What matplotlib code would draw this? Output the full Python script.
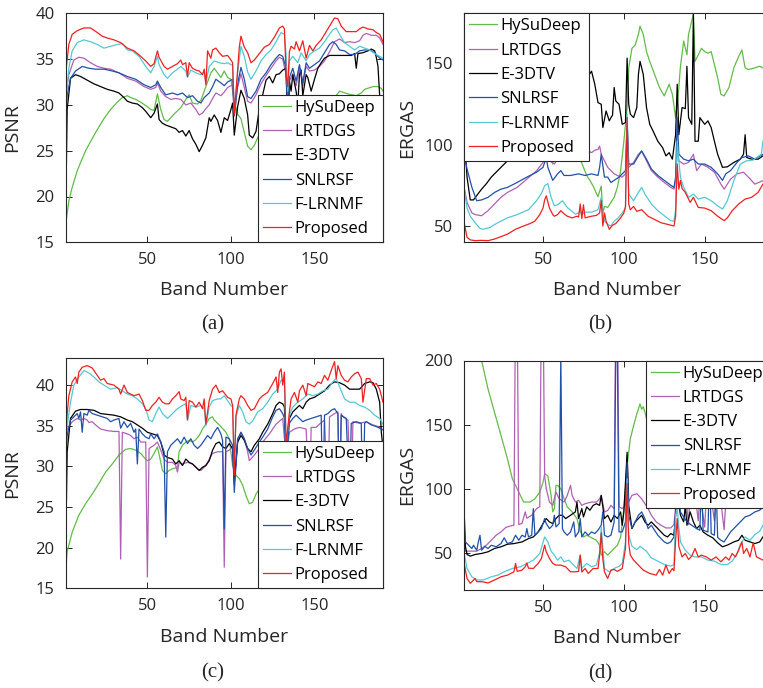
import matplotlib
matplotlib.use('Agg')
import matplotlib.pyplot as plt

plt.rcParams['font.family'] = ['Open Sans', 'DejaVu Sans']

methods = ['HySuDeep', 'LRTDGS', 'E-3DTV', 'SNLRSF', 'F-LRNMF', 'Proposed']
colors = ['#62bb48', '#b060b4', '#000000', '#2050a8', '#55c8d4', '#f02020']

# ---------- (a) PSNR, case 1 : (band, value) ----------
a_hysudeep = [(1,16.8),(3,19.5),(5,21),(8,22.8),(10,23.7),(13,25),(16,26),(20,27.3),(24,28.5),(28,29.5),(32,30.3),(35,30.8),(38,31.0),(40,30.8),(43,30.6),(46,30.3),(50,29.8),(52,29.5),(54,29.4),(56,31.2),(58,29.5),(60,28.4),(62,28.2),(66,29.0),(70,29.7),(73,30.6),(75,31.1),(77,30.2),(80,30.1),(82,30.5),(84,31.5),(86,32.5),(88,33.5),(90,34.0),(92,33.5),(94,33.0),(96,33.7),(98,33.0),(100,32.8),(102,30.4),(104,29.0),(106,28.5),(108,27.0),(110,25.5),(112,25.1),(114,25.6),(116,26.4),(118,27.2),(120,28),(125,29),(130,30.2),(132,30.8),(134,29),(140,29.5),(150,29.5),(158,30),(162,30.8),(165,31.5),(170,31.2),(175,31.0),(178,31.3),(180,31.7),(185,32.0),(188,32.0),(190,31.8),(191,31.5)]
a_lrtdgs = [(1,31.1),(3,33.3),(6,34.9),(9,35.2),(12,35.1),(16,34.6),(20,34.2),(24,34.0),(28,33.9),(33,33.5),(38,32.9),(43,32.6),(48,32.0),(52,31.7),(55,31.9),(56,32.4),(58,31.5),(61,30.9),(64,30.6),(67,30.7),(70,30.6),(73,30.0),(76,30.2),(79,29.5),(81,28.9),(83,29.1),(85,29.6),(87,30.0),(89,30.7),(91,31.3),(94,31.0),(96,31.4),(98,31.9),(101,32.2),(102,28.8),(104,31.9),(106,33.4),(108,31.9),(110,30.4),(112,30.2),(115,31.1),(118,32.3),(121,33.2),(124,34.0),(127,34.8),(129,35.2),(131,35.0),(133,33.3),(134,28.5),(135,32.6),(137,33.4),(139,32.1),(141,34.0),(143,32.1),(145,34.2),(147,33.7),(150,33.8),(153,34.2),(156,34.8),(159,35.8),(162,36.9),(165,37.2),(168,36.8),(171,36.9),(174,36.8),(177,37.0),(179,37.6),(181,37.8),(184,37.6),(187,37.6),(189,37.3),(191,36.6)]
a_e3dtv = [(1,16.5),(2,29.5),(4,32.9),(7,33.3),(10,33.1),(14,32.7),(18,32.3),(22,32.0),(26,31.7),(30,31.5),(33,31.3),(36,30.8),(38,30.4),(41,30.2),(44,30.1),(47,29.7),(49,29.3),(52,28.6),(54,29.1),(56,30.1),(57,28.4),(59,28.0),(61,27.8),(64,27.6),(67,27.4),(69,27.0),(71,27.2),(73,26.6),(75,27.2),(77,26.3),(79,25.7),(81,24.9),(83,25.6),(85,26.4),(87,28.6),(88,28.2),(90,28.9),(92,28.3),(94,27.0),(96,28.6),(98,28.3),(100,29.5),(101,30.2),(102,26.7),(104,29.8),(106,31.6),(108,30.7),(110,28.9),(111,26.7),(113,26.4),(115,27.1),(117,29.6),(119,31.1),(121,32.7),(123,33.1),(125,32.4),(127,33.3),(129,33.4),(131,33.8),(133,34.0),(134,27.0),(135,32.6),(136,31.5),(137,33.3),(139,31.5),(140,30.0),(141,33.3),(142,33.8),(143,31.0),(145,33.3),(146,33.0),(148,31.5),(150,32.8),(152,34.0),(154,34.6),(156,35.1),(159,35.4),(163,35.4),(168,35.4),(172,35.4),(174,35.6),(175,34.0),(176,35.6),(179,35.7),(182,35.9),(184,36.1),(186,35.9),(187,35.2),(188,34.2),(189,31.0),(190,27.5),(191,24.0)]
a_snlrsf = [(1,27.9),(2,31.1),(4,32.9),(7,33.7),(11,34.2),(15,34.0),(19,33.9),(24,33.9),(29,33.7),(33,33.5),(38,33.1),(43,32.8),(48,32.2),(52,31.9),(55,32.2),(56,32.6),(58,31.9),(61,31.1),(65,31.3),(68,31.1),(71,31.3),(74,30.8),(77,31.0),(80,30.4),(82,30.2),(84,30.8),(87,31.3),(89,32.0),(91,32.8),(94,32.4),(96,32.1),(98,32.5),(101,32.8),(102,28.8),(104,32.3),(106,34.1),(108,32.8),(110,30.9),(112,30.7),(115,31.5),(118,32.8),(121,33.5),(124,34.4),(127,35.1),(129,35.5),(131,35.3),(133,34.0),(134,28.5),(135,33.0),(137,34.0),(139,32.6),(141,34.4),(143,32.4),(145,34.6),(147,34.0),(150,34.4),(153,34.8),(156,35.7),(159,36.6),(161,36.9),(163,36.6),(165,36.0),(168,35.9),(171,35.5),(174,35.5),(177,35.9),(180,36.0),(183,36.0),(186,35.7),(189,35.1),(191,34.9)]
a_flrnmf = [(1,30.0),(3,34.0),(5,35.9),(8,36.8),(12,37.1),(16,36.9),(20,36.6),(24,36.2),(28,36.4),(32,36.6),(35,36.7),(38,36.0),(41,35.9),(45,35.3),(49,34.2),(52,33.5),(54,34.2),(56,35.3),(57,34.4),(60,33.3),(62,32.9),(65,33.5),(68,33.9),(70,34.2),(73,33.7),(74,33.0),(76,33.8),(79,33.5),(82,33.3),(84,33.6),(85,32.4),(87,34.2),(90,34.8),(93,34.6),(96,34.5),(98,34.6),(101,34.3),(102,29.3),(104,33.5),(106,36.4),(108,35.3),(110,33.6),(112,32.8),(115,33.7),(118,34.8),(121,35.5),(124,36.0),(127,36.9),(130,37.9),(132,37.7),(133,35.5),(134,31.5),(135,34.8),(137,35.3),(140,34.6),(142,35.7),(145,34.8),(147,35.5),(150,35.9),(153,36.2),(156,36.9),(159,37.7),(161,38.2),(163,38.4),(165,37.7),(168,36.8),(171,36.4),(174,36.0),(177,36.4),(180,36.2),(183,36.0),(186,35.6),(189,35.3),(191,35.1)]
a_proposed = [(1,33.3),(3,36.6),(5,37.7),(8,38.1),(12,38.4),(16,38.4),(20,37.9),(23,37.5),(26,37.3),(30,37.1),(34,36.8),(38,36.2),(42,35.9),(46,35.3),(49,34.8),(52,34.2),(54,34.5),(56,35.9),(57,35.2),(60,34.2),(62,33.9),(65,34.2),(68,34.5),(70,34.9),(71,34.4),(73,34.6),(74,33.1),(75,34.6),(77,34.0),(79,33.8),(81,33.7),(83,33.3),(84,33.9),(85,32.2),(86,35.9),(88,35.1),(89,36.0),(91,36.2),(93,35.7),(95,35.3),(98,35.4),(100,34.9),(101,34.6),(102,28.9),(104,33.8),(105,36.3),(106,37.5),(108,36.3),(110,35.7),(112,34.6),(114,34.9),(117,35.6),(120,36.3),(123,36.6),(126,37.4),(129,38.4),(131,38.6),(132,38.3),(133,33.3),(134,32.0),(135,35.8),(136,36.4),(138,36.1),(139,36.9),(141,35.9),(143,37.0),(145,35.1),(147,36.5),(149,35.9),(151,36.5),(154,37.1),(157,38.0),(160,38.9),(162,39.5),(164,39.4),(166,38.6),(169,38.0),(172,38.0),(175,38.0),(177,38.3),(179,38.5),(182,38.3),(185,38.2),(187,37.9),(189,37.7),(191,36.9)]

# ---------- (b) ERGAS, case 1 ----------
b_hysudeep = [(1,250.0),(5,200.0),(10,175.0),(15,160.0),(20,150.0),(30,135.0),(40,122.0),(48,112.0),(52,105.0),(54,98.0),(55,94.0),(56,88.0),(57,96.0),(60,102.0),(65,100.0),(70,97.0),(73,91.0),(75,86.0),(77,81.0),(79,78.0),(81,74.5),(83,70.0),(84,68.0),(86,74.5),(87,58.0),(88,62.0),(90,61.4),(92,64.5),(94,67.6),(96,73.7),(98,84.0),(100,102.0),(102,122.7),(103,147.0),(105,159.0),(107,161.0),(109,167.6),(110,172.6),(112,167.6),(114,157.0),(116,151.0),(119,143.0),(122,135.0),(125,129.8),(128,137.0),(130,130.8),(132,116.5),(134,135.0),(135,148.0),(137,163.5),(139,155.0),(140,167.6),(143,180.0),(144,151.0),(146,155.0),(148,159.0),(150,157.0),(152,156.0),(154,157.0),(156,149.0),(158,141.0),(160,130.8),(162,129.8),(165,135.0),(168,147.0),(171,154.0),(173,158.0),(175,147.0),(177,146.0),(181,147.0),(184,148.0),(186,147.0),(191,147.0)]
b_lrtdgs = [(1,74.7),(3,64.5),(6,58.0),(8,57.0),(12,56.3),(16,59.4),(20,63.5),(24,67.6),(28,70.6),(34,73.7),(40,78.8),(46,83.9),(50,89.0),(52,94.0),(54,90.0),(57,88.0),(59,91.0),(63,90.0),(67,92.0),(71,93.0),(75,94.0),(78,96.0),(80,95.0),(82,96.5),(84,97.0),(85,99.0),(86,94.0),(88,90.0),(90,86.0),(92,84.0),(94,82.0),(97,80.5),(99,80.0),(101,82.0),(102,112.0),(103,86.0),(106,89.0),(109,94.0),(111,96.0),(114,90.0),(117,84.0),(121,80.0),(125,76.7),(129,73.7),(131,72.6),(132,78.0),(133,98.0),(134,90.0),(137,88.0),(140,89.0),(143,94.0),(145,84.0),(148,88.0),(152,86.0),(156,83.0),(160,75.7),(162,72.6),(166,78.8),(170,82.0),(174,83.0),(177,80.0),(181,75.7),(186,77.8),(191,80.0)]
b_e3dtv = [(1,110.0),(3,80.0),(5,66.0),(7,66.0),(10,70.0),(12,72.6),(15,76.0),(18,80.0),(21,83.0),(24,86.0),(28,90.0),(32,92.5),(36,96.0),(40,100.0),(45,104.0),(50,108.0),(55,112.0),(60,116.0),(65,122.0),(70,130.0),(75,138.0),(78,142.0),(80,145.0),(82,137.0),(84,125.7),(86,124.7),(87,110.4),(89,120.6),(91,114.5),(92,116.5),(93,118.0),(94,135.0),(95,126.7),(97,124.7),(98,118.6),(99,112.4),(101,113.5),(102,153.0),(103,124.7),(104,118.6),(106,116.5),(108,122.7),(109,143.0),(110,151.0),(112,143.0),(114,122.7),(116,112.4),(118,108.4),(121,102.0),(124,98.0),(126,93.0),(128,95.0),(130,91.0),(132,106.0),(133,137.0),(134,106.0),(136,122.7),(138,122.0),(139,148.0),(140,116.5),(142,112.4),(143,180.0),(144,102.0),(146,102.0),(147,116.5),(150,112.4),(152,114.5),(154,110.4),(156,102.0),(158,94.0),(161,86.0),(164,86.3),(168,89.0),(172,91.0),(174,94.0),(175,106.0),(176,92.0),(179,91.0),(183,91.0),(186,93.0),(191,95.0)]
b_snlrsf = [(1,95.0),(3,85.0),(6,73.7),(9,65.5),(12,66.0),(16,67.6),(20,70.6),(24,72.6),(28,73.7),(34,76.7),(40,80.0),(46,83.0),(50,86.0),(52,92.0),(53,86.0),(56,78.0),(59,82.0),(61,84.0),(63,81.0),(67,81.0),(72,82.0),(76,81.0),(80,82.0),(84,81.0),(85,86.0),(86,94.0),(88,80.0),(90,80.0),(92,76.7),(94,78.0),(97,80.0),(99,82.0),(101,84.0),(102,116.5),(103,88.0),(106,88.0),(109,93.0),(111,96.0),(114,91.0),(117,85.0),(121,81.0),(125,78.0),(129,75.0),(131,73.7),(132,80.0),(133,116.5),(134,94.0),(137,91.0),(140,90.0),(143,91.0),(146,88.0),(150,88.0),(154,86.0),(158,82.0),(161,78.0),(163,82.0),(166,84.0),(170,89.0),(173,92.0),(177,93.0),(181,91.0),(186,94.0),(191,96.0)]
b_flrnmf = [(1,75.0),(3,61.0),(5,56.0),(8,52.0),(11,48.5),(13,48.0),(17,49.0),(22,52.0),(28,55.0),(34,57.0),(41,60.0),(46,65.5),(49,70.0),(51,74.7),(53,76.0),(55,67.6),(57,62.4),(59,63.0),(62,65.5),(65,61.4),(70,57.3),(72,58.0),(73,59.5),(74,57.0),(76,58.5),(80,58.5),(84,60.0),(86,67.6),(87,58.0),(88,53.0),(90,51.0),(92,50.0),(94,53.0),(96,54.5),(99,58.0),(101,61.0),(102,118.5),(103,69.6),(106,65.5),(109,70.6),(111,73.7),(113,69.6),(117,63.5),(121,59.4),(125,56.3),(129,53.3),(131,53.0),(132,60.0),(133,102.0),(134,90.0),(135,79.8),(137,73.7),(140,67.6),(143,69.6),(146,66.5),(150,67.6),(154,65.5),(158,62.4),(161,60.4),(164,65.5),(168,77.8),(172,88.0),(176,90.0),(180,90.5),(185,94.0),(186,102.0),(191,110.0)]
b_proposed = [(1,53.3),(3,43.0),(5,41.5),(8,41.0),(12,41.2),(16,41.0),(20,42.0),(24,43.5),(28,45.0),(33,48.0),(38,50.0),(42,51.5),(45,53.0),(48,57.0),(50,61.0),(51,66.0),(52,68.5),(54,61.0),(56,57.0),(57,56.0),(59,57.0),(61,59.4),(63,57.5),(65,56.0),(68,55.0),(71,56.0),(72,55.5),(73,63.5),(74,54.5),(75,63.0),(76,55.0),(78,55.5),(80,56.0),(83,56.5),(85,58.0),(86,65.5),(87,50.0),(88,58.0),(89,53.0),(91,48.0),(93,50.5),(95,51.5),(98,55.0),(100,58.0),(101,62.0),(102,116.5),(103,63.5),(104,60.0),(106,62.0),(108,59.0),(111,60.0),(115,56.0),(119,54.0),(123,52.0),(127,51.0),(131,50.0),(132,56.0),(133,88.0),(134,72.6),(135,78.0),(136,73.0),(138,70.6),(141,64.5),(143,67.6),(146,61.4),(150,61.0),(154,59.4),(158,56.0),(162,53.3),(164,55.0),(167,59.4),(171,63.5),(175,66.5),(179,67.6),(183,70.6),(186,75.7),(188,78.0),(191,80.0)]

# ---------- (c) PSNR, case 2 ----------
c_hysudeep = [(1,16.8),(2,19.5),(5,21.9),(9,24.0),(13,25.4),(17,26.6),(21,27.9),(25,29.3),(29,30.3),(33,31.4),(37,32.1),(40,32.2),(43,32.0),(46,31.6),(48,31.1),(50,30.7),(52,30.9),(54,31.6),(56,32.4),(57,31.5),(59,29.5),(61,29.1),(63,29.5),(65,29.7),(68,29.9),(69,31.8),(71,32.6),(73,33.0),(75,33.2),(77,33.0),(79,33.3),(81,33.8),(83,34.6),(85,35.2),(87,35.9),(89,36.1),(90,35.7),(92,35.3),(94,34.9),(97,34.2),(99,33.4),(101,30.1),(103,28.9),(105,28.5),(107,27.7),(109,26.4),(111,25.4),(113,25.6),(115,26.6),(118,27.5),(122,28.5),(127,29.5),(132,30.0),(137,30.5),(145,30.5),(155,30.0),(165,30.5),(175,31.0),(185,31.0),(191,30.8)]
c_lrtdgs = [(1,33.0),(2,34.6),(5,35.5),(8,35.9),(10,35.7),(12,35.9),(14,35.7),(15,35.4),(17,35.5),(19,35.1),(22,34.6),(26,34.4),(30,34.3),(33,34.3),(34,18.6),(35,34.2),(38,34.0),(40,33.8),(42,33.4),(44,33.6),(46,33.0),(49,33.0),(50,16.4),(51,32.2),(54,32.6),(56,33.0),(58,32.0),(60,30.9),(62,30.5),(65,30.5),(67,30.1),(68,29.3),(69,30.5),(71,30.3),(74,30.5),(77,30.3),(80,29.7),(82,29.5),(84,29.9),(86,30.5),(89,31.6),(92,31.8),(95,31.8),(96,17.6),(97,31.8),(99,32.0),(101,32.4),(102,27.7),(104,33.0),(106,34.2),(108,33.4),(110,31.8),(111,30.7),(114,31.4),(117,32.2),(119,33.0),(123,34.0),(127,35.2),(131,35.9),(133,31.0),(135,34.2),(138,34.6),(141,34.8),(145,34.6),(147,25.0),(148,34.8),(151,34.8),(153,35.2),(156,35.7),(158,26.0),(159,36.1),(162,36.5),(164,36.7),(165,25.5),(166,36.5),(167,36.1),(170,35.7),(172,24.5),(173,35.5),(175,35.4),(177,35.3),(181,35.5),(185,35.1),(188,34.9),(191,34.5)]
c_e3dtv = [(1,17.8),(2,31.8),(4,35.9),(7,36.8),(10,37.0),(14,37.0),(18,36.9),(22,36.5),(26,36.4),(30,36.3),(34,36.1),(38,35.7),(41,35.5),(44,35.1),(47,34.7),(50,34.2),(53,34.0),(56,33.8),(58,33.0),(60,31.4),(62,31.1),(65,30.9),(67,30.3),(69,30.7),(71,30.1),(73,30.9),(75,30.5),(77,30.3),(79,29.9),(81,29.5),(83,29.9),(85,30.1),(87,30.7),(89,32.0),(91,32.8),(93,33.0),(95,32.4),(97,32.2),(99,32.8),(101,32.2),(102,28.1),(104,33.0),(106,33.8),(108,33.2),(110,32.2),(112,31.8),(114,32.6),(117,33.4),(119,34.2),(122,35.2),(125,36.5),(127,37.5),(129,37.9),(131,37.7),(132,37.3),(133,32.2),(135,35.9),(137,36.7),(139,37.1),(141,37.5),(143,37.1),(145,37.9),(147,38.3),(150,38.5),(153,38.9),(156,39.3),(159,40.0),(162,40.4),(165,40.3),(168,40.0),(171,39.5),(174,39.5),(177,39.5),(180,40.2),(183,40.4),(185,40.3),(187,39.5),(189,37.9),(190,34.2),(191,32.2)]
c_snlrsf = [(1,30.5),(2,33.8),(4,35.7),(6,36.1),(8,36.5),(9,35.9),(10,36.7),(11,34.2),(12,36.5),(14,36.3),(15,36.9),(17,36.5),(20,36.3),(23,36.1),(26,35.9),(28,35.5),(30,35.7),(33,35.9),(34,34.7),(36,35.5),(38,34.8),(40,35.3),(42,34.2),(43,34.6),(44,30.3),(45,34.6),(47,34.0),(49,33.6),(51,33.4),(52,34.0),(54,33.4),(56,34.0),(58,33.0),(60,31.8),(61,21.3),(62,31.8),(64,32.6),(66,33.0),(68,33.4),(70,32.8),(72,33.6),(74,32.8),(76,33.4),(78,32.6),(80,32.2),(82,32.6),(84,33.2),(86,33.8),(88,33.4),(90,34.2),(92,34.8),(94,34.0),(95,33.2),(96,22.3),(97,33.6),(99,33.4),(101,32.6),(102,26.8),(104,33.4),(106,34.2),(108,33.4),(110,32.2),(112,31.4),(114,32.0),(117,33.0),(119,33.6),(122,34.6),(125,36.1),(127,36.9),(129,37.1),(131,36.5),(132,35.9),(133,30.5),(135,35.3),(137,35.9),(139,36.3),(141,35.9),(143,35.5),(145,35.7),(148,35.9),(151,36.1),(154,36.3),(155,25.0),(156,36.3),(158,36.5),(160,36.9),(162,37.1),(164,36.5),(165,24.0),(166,36.3),(169,35.9),(171,26.0),(172,35.3),(175,35.5),(178,35.3),(179,23.0),(180,35.3),(181,35.5),(184,35.1),(187,34.9),(189,34.7),(191,34.5)]
c_flrnmf = [(1,33.6),(4,37.9),(6,40.0),(9,41.0),(12,41.8),(15,41.5),(18,41.0),(21,40.4),(24,40.0),(28,39.5),(32,39.7),(35,39.3),(38,38.9),(41,38.7),(44,38.3),(47,37.7),(49,37.1),(51,35.7),(53,35.5),(55,36.5),(57,37.3),(59,36.5),(62,35.9),(65,36.5),(68,37.1),(71,37.5),(73,37.7),(74,35.7),(76,37.5),(79,37.3),(82,37.5),(84,37.1),(85,35.0),(87,37.3),(89,38.1),(92,38.3),(94,38.3),(96,38.7),(98,38.1),(100,37.5),(101,37.3),(102,30.1),(103,36.1),(105,37.5),(107,36.7),(109,35.5),(111,35.2),(113,35.6),(116,36.7),(119,37.1),(122,37.9),(125,38.9),(128,39.5),(130,40.6),(132,40.4),(133,32.6),(135,36.3),(137,37.3),(140,37.9),(143,38.3),(146,38.9),(149,38.7),(152,38.9),(155,39.3),(158,39.5),(161,40.4),(163,40.8),(165,39.8),(168,38.3),(171,37.9),(174,37.9),(177,37.5),(180,37.3),(183,36.9),(186,36.3),(189,35.9),(191,35.2)]
c_proposed = [(1,34.2),(3,38.7),(5,40.4),(7,41.0),(8,40.2),(9,41.6),(11,42.2),(14,42.4),(17,42.1),(20,41.2),(22,40.6),(24,40.8),(26,40.2),(30,40.0),(33,39.5),(34,38.9),(36,40.0),(38,39.1),(40,38.9),(42,38.7),(45,38.9),(47,38.1),(49,36.9),(51,36.9),(53,37.5),(55,37.9),(57,38.5),(59,37.9),(61,37.7),(63,37.7),(65,38.3),(67,38.7),(69,39.2),(70,38.3),(72,38.1),(73,38.5),(74,35.7),(75,38.1),(77,37.9),(79,37.3),(81,37.9),(83,37.1),(84,38.3),(85,35.2),(87,38.1),(89,39.5),(91,40.0),(93,39.1),(95,39.3),(98,38.5),(100,38.3),(101,37.5),(102,28.9),(103,36.3),(105,38.3),(106,38.7),(108,38.3),(110,37.5),(112,36.9),(114,37.1),(117,38.3),(119,38.7),(122,39.1),(125,40.2),(127,41.0),(128,39.1),(129,41.6),(130,42.0),(131,40.0),(132,41.6),(133,32.6),(135,36.7),(136,38.3),(138,39.1),(140,37.9),(141,39.3),(143,40.0),(145,38.7),(146,40.2),(148,40.0),(150,39.8),(152,40.4),(154,40.2),(156,41.2),(158,40.6),(160,41.8),(162,42.9),(163,40.8),(164,42.4),(166,41.2),(168,40.6),(170,40.4),(172,41.0),(174,41.4),(176,41.6),(178,40.8),(179,37.9),(181,40.8),(183,40.8),(185,40.0),(187,40.2),(189,39.5),(191,37.9)]

# ---------- (d) ERGAS, case 2 ----------
d_hysudeep = [(1,400.0),(5,300.0),(9,240.0),(12,200.0),(16,177.7),(20,159.6),(24,141.5),(28,123.3),(31,107.8),(35,97.4),(38,89.6),(42,89.6),(45,92.2),(48,97.4),(50,105.0),(51,111.7),(53,110.0),(55,94.8),(56,81.9),(57,84.5),(58,102.6),(59,102.6),(61,100.0),(63,92.2),(65,85.8),(68,81.9),(71,76.7),(73,66.8),(75,62.4),(77,63.7),(79,62.4),(81,61.1),(83,59.8),(85,55.9),(86,48.2),(88,50.8),(90,48.2),(92,50.8),(94,53.4),(96,55.9),(98,62.4),(100,84.5),(102,118.0),(104,138.9),(106,149.2),(108,158.3),(110,166.1),(111,162.0),(112,164.0),(113,159.6),(116,145.0),(120,130.0),(125,115.0),(130,110.0),(135,118.0),(140,125.0),(150,120.0),(160,115.0),(170,120.0),(180,125.0),(191,125.0)]
d_lrtdgs = [(1,58.5),(2,51.3),(6,51.3),(9,51.3),(12,53.4),(15,56.0),(18,59.8),(21,63.7),(24,66.3),(27,69.8),(30,71.0),(32,71.5),(33,250.0),(34,250.0),(35,72.0),(37,73.0),(39,81.9),(40,77.0),(43,79.3),(46,84.5),(48,86.0),(49,250.0),(50,250.0),(51,110.0),(52,100.0),(54,89.6),(56,87.0),(58,97.4),(60,92.2),(63,89.6),(65,94.8),(67,102.6),(68,94.8),(70,89.6),(72,91.0),(74,87.0),(76,88.3),(80,89.6),(83,89.6),(85,92.2),(86,94.8),(88,81.9),(90,83.0),(92,87.0),(94,84.5),(95,250.0),(96,250.0),(97,86.0),(99,84.5),(101,87.0),(102,125.9),(103,89.6),(105,94.8),(108,96.1),(111,92.2),(113,88.3),(115,84.5),(117,79.3),(120,74.1),(123,71.5),(126,69.4),(129,69.4),(131,72.0),(133,100.0),(135,95.0),(138,98.0),(140,72.0),(141,98.0),(144,96.0),(146,75.0),(147,96.0),(150,70.0),(151,95.0),(154,93.0),(156,75.0),(157,92.0),(160,90.0),(162,68.0),(163,89.0),(166,90.0),(170,92.0),(174,95.0),(178,97.0),(182,98.0),(186,100.0),(191,100.0)]
d_e3dtv = [(1,90.0),(2,55.0),(3,48.7),(5,47.4),(8,48.7),(12,49.5),(16,50.8),(20,53.4),(24,54.7),(28,56.7),(32,57.2),(37,58.5),(41,61.1),(44,62.4),(47,66.3),(50,72.8),(52,76.7),(54,74.1),(56,72.8),(58,76.7),(60,79.3),(62,79.3),(64,76.7),(67,79.3),(70,81.9),(71,89.6),(72,76.7),(74,84.5),(75,78.0),(77,85.8),(79,83.2),(81,87.0),(83,88.3),(85,87.0),(86,94.8),(88,76.7),(90,79.3),(92,74.0),(94,79.3),(96,76.7),(98,81.9),(99,71.5),(100,81.9),(102,128.5),(103,87.0),(105,68.9),(107,74.1),(109,76.7),(111,79.3),(113,74.1),(115,71.5),(117,74.1),(119,71.5),(121,68.9),(123,66.3),(125,63.7),(127,62.4),(129,65.0),(131,63.7),(133,94.8),(135,79.3),(137,74.1),(138,87.0),(139,71.5),(141,81.9),(143,74.1),(145,68.9),(147,71.5),(149,66.3),(152,63.7),(155,61.7),(158,57.8),(161,54.7),(164,56.0),(168,58.5),(171,59.8),(173,63.7),(175,59.8),(178,58.5),(181,57.2),(184,58.5),(186,62.4),(191,64.0)]
d_snlrsf = [(1,74.1),(2,58.5),(4,55.9),(6,53.4),(7,55.9),(9,52.0),(10,58.5),(11,63.7),(12,52.0),(14,55.0),(16,53.4),(18,55.9),(21,54.7),(24,57.2),(26,61.7),(28,57.2),(31,58.5),(33,63.7),(35,59.8),(37,63.7),(39,62.4),(40,68.9),(41,62.4),(43,63.7),(44,84.5),(45,63.7),(47,66.3),(49,68.9),(51,76.7),(52,72.8),(54,68.9),(56,71.5),(57,79.3),(58,70.2),(60,72.8),(61,205.0),(62,68.9),(63,66.3),(65,63.7),(67,66.3),(69,74.1),(70,62.4),(72,66.3),(73,76.7),(74,62.4),(76,66.3),(78,63.7),(80,66.3),(82,65.0),(84,67.6),(86,71.5),(87,81.9),(88,63.7),(90,62.4),(92,63.7),(94,74.1),(95,205.0),(96,205.0),(97,66.3),(99,66.3),(101,74.1),(102,120.7),(103,79.3),(105,68.9),(107,74.1),(109,79.3),(111,81.9),(113,76.7),(115,68.9),(117,71.5),(119,67.6),(121,63.7),(123,61.1),(125,58.5),(127,57.2),(129,58.5),(131,62.4),(133,100.0),(135,81.9),(137,78.0),(139,74.1),(142,71.5),(145,68.9),(147,67.6),(148,110.0),(149,67.6),(152,66.3),(153,115.0),(154,65.0),(156,63.7),(157,105.0),(158,62.0),(160,59.8),(162,58.5),(164,62.4),(166,66.3),(169,70.2),(172,74.1),(175,78.0),(178,79.3),(181,81.9),(184,83.2),(186,85.8),(191,88.0)]
d_flrnmf = [(1,50.8),(3,37.8),(6,31.3),(9,28.8),(13,28.8),(18,31.3),(22,32.6),(26,35.2),(31,37.8),(36,39.1),(40,41.7),(44,44.3),(48,49.5),(51,62.4),(53,58.5),(55,51.3),(57,48.2),(59,44.3),(61,46.8),(63,43.0),(66,44.3),(69,40.4),(71,37.8),(73,48.2),(74,37.8),(77,41.7),(80,39.1),(83,40.4),(85,50.0),(86,70.2),(88,37.8),(91,35.2),(94,37.8),(97,39.5),(99,41.7),(101,58.5),(102,107.8),(103,64.2),(105,55.1),(108,52.5),(110,55.1),(114,51.2),(117,46.0),(121,43.5),(125,40.9),(129,39.6),(131,40.9),(132,79.3),(133,85.0),(134,70.0),(135,58.5),(138,52.0),(141,48.2),(144,46.8),(148,46.8),(152,44.3),(156,43.5),(160,40.9),(164,40.9),(167,43.5),(170,49.5),(172,56.5),(175,62.4),(178,59.8),(181,64.2),(184,66.8),(186,71.5),(189,75.0),(191,78.0)]
d_proposed = [(1,43.0),(3,30.0),(5,26.2),(8,30.0),(9,27.5),(12,27.5),(16,26.5),(20,28.8),(24,31.3),(28,32.6),(32,35.2),(33,41.7),(34,35.5),(37,36.5),(39,39.1),(40,42.0),(41,38.0),(44,37.8),(47,41.7),(49,45.6),(51,56.0),(52,50.8),(54,45.6),(56,41.7),(58,40.4),(61,40.4),(64,39.1),(67,35.2),(70,35.2),(72,35.5),(73,48.2),(74,35.0),(76,37.8),(78,33.9),(81,37.8),(84,37.8),(85,48.2),(86,65.5),(87,45.0),(88,35.2),(90,30.0),(92,36.5),(94,37.0),(96,35.5),(99,37.8),(101,53.4),(102,103.9),(103,57.3),(104,48.2),(106,44.3),(109,40.4),(112,36.5),(116,33.9),(120,32.6),(122,37.0),(124,32.6),(126,40.4),(128,33.9),(130,37.8),(131,36.0),(132,60.0),(133,76.7),(134,55.0),(136,46.8),(138,49.5),(140,44.8),(142,47.4),(144,53.4),(146,46.8),(148,48.2),(151,46.8),(154,44.3),(157,46.8),(160,43.0),(163,46.8),(165,44.3),(167,49.5),(169,46.8),(171,52.0),(173,58.5),(174,49.5),(176,53.4),(178,46.8),(180,57.8),(182,46.8),(184,45.6),(186,44.3),(189,48.0),(191,50.0)]

W, H = 763, 688
fig = plt.figure(figsize=(W / 100, H / 100), dpi=100)

LEG_W, LEG_H = 125, 145   # legend box size in pixels


def panel(rect, series, ylim, yticks, ylabel, loc, ylab_x):
    ax = fig.add_axes(rect)
    for name, pts, col in zip(methods, series, colors):
        bands = [p[0] for p in pts]
        vals = [p[1] for p in pts]
        ax.plot(bands, vals, color=col, lw=0.9, label=name)
    ax.set_xlim(1, 191)
    ax.set_ylim(*ylim)
    ax.set_xticks([50, 100, 150])
    ax.set_yticks(yticks)
    ax.tick_params(direction='in', top=True, right=True, length=4,
                   width=0.7, labelsize=12, colors='#262626')
    ax.tick_params(axis='x', pad=7)
    ax.tick_params(axis='y', pad=8)
    for s in ax.spines.values():
        s.set_color('#262626')
        s.set_linewidth(0.8)
    ax.set_xlabel('Band Number', fontsize=14, color='#262626', va='center')
    ax.xaxis.set_label_coords(0.5, -0.21)
    ax.set_ylabel(ylabel, fontsize=14, color='#262626', va='center')
    ax.yaxis.set_label_coords(ylab_x, 0.5)

    # legend box of fixed size, flush with the axes corner
    w = LEG_W / (rect[2] * W)
    h = LEG_H / (rect[3] * H)
    x0 = 0 if 'left' in loc else 1 - w
    y0 = 0 if 'lower' in loc else 1 - h
    leg = ax.legend(loc=loc, bbox_to_anchor=(x0, y0, w, h), mode='expand',
                    fontsize=12, borderaxespad=0, fancybox=False,
                    framealpha=1, edgecolor='#262626', handlelength=1.7,
                    handletextpad=0.2, labelspacing=0.5, borderpad=0.3)
    leg.get_frame().set_linewidth(0.8)
    return ax


panel([65.5 / W, 1 - 242.3 / H, 317.5 / W, 229 / H],
      [a_hysudeep, a_lrtdgs, a_e3dtv, a_snlrsf, a_flrnmf, a_proposed],
      (15, 40), [15, 20, 25, 30, 35, 40], 'PSNR', 'lower right', -0.168)
panel([463.8 / W, 1 - 242.3 / H, 307.2 / W, 229 / H],
      [b_hysudeep, b_lrtdgs, b_e3dtv, b_snlrsf, b_flrnmf, b_proposed],
      (40, 180.5), [50, 100, 150], 'ERGAS', 'upper left', -0.185)
panel([65.5 / W, 1 - 588.3 / H, 317.5 / W, 230 / H],
      [c_hysudeep, c_lrtdgs, c_e3dtv, c_snlrsf, c_flrnmf, c_proposed],
      (15, 43.3), [15, 20, 25, 30, 35, 40], 'PSNR', 'lower right', -0.168)
panel([463.8 / W, 1 - 590 / H, 307.2 / W, 229.5 / H],
      [d_hysudeep, d_lrtdgs, d_e3dtv, d_snlrsf, d_flrnmf, d_proposed],
      (21, 200), [50, 100, 150, 200], 'ERGAS', 'upper right', -0.185)

for lab, x, y in [('(a)', 213, 325), ('(b)', 600, 325), ('(c)', 213, 673), ('(d)', 600, 674)]:
    fig.text(x / W, 1 - y / H, lab, ha='center', va='center', fontsize=15,
             family=['Liberation Serif', 'DejaVu Serif'], color='#262626')

fig.savefig('out.png', dpi=100)
